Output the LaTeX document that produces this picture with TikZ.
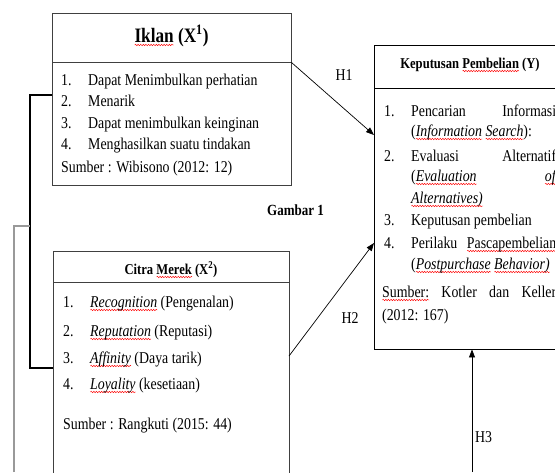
\documentclass[tikz,border=0pt]{standalone}
\usepackage{fontspec}
\setmainfont{Liberation Serif}[FakeStretch=0.84]
\usetikzlibrary{arrows.meta,decorations.pathmorphing}
\newdimen\sqwd
\newcommand\sqw[1]{\setbox0\hbox{#1}\sqwd=\wd0\relax\rlap{\tikz[x=1pt,y=1pt,baseline=0pt]\draw[red,line width=0.45pt,decorate,decoration={snake,amplitude=0.7pt,segment length=2.6pt}] (0,-3) -- (\sqwd,-3);}\box0\relax}
\begin{document}
\begin{tikzpicture}[x=1pt,y=-1pt,
  boxa/.style={draw=black!75, line width=0.9pt, inner sep=0pt, rectangle},
  boxk/.style={draw=black, line width=0.9pt, inner sep=0pt, rectangle},
  body/.style={anchor=base west, inner sep=0pt, font=\fontsize{16.5}{20}\selectfont},
  ttl/.style={anchor=base, inner sep=0pt, font=\bfseries\fontsize{15}{18}\selectfont},
  arr/.style={-{Triangle[length=8pt,width=6pt]}, line width=0.7pt},
  lbl/.style={anchor=base, inner sep=0pt, font=\fontsize{16.5}{20}\selectfont}]
\useasboundingbox (0,0) rectangle (555,472);
\clip (0,0) rectangle (555,472);

% Iklan box
\node[boxa, minimum width=239pt, minimum height=49pt] (iklanhead) at (171.5,37.5) {};
\node[boxa, minimum width=239pt, minimum height=123pt] (iklanbody) at (171.5,123.5) {};
\node[ttl, font=\bfseries\fontsize{20.5}{24}\selectfont] (iklant) at (171.5,42) {\sqw{Iklan} (X\textsuperscript{1})};
\node[body] (i1n) at (61,85) {1.};
\node[body] (i1) at (88,85) {Dapat Menimbulkan perhatian};
\node[body] (i2n) at (61,106) {2.};
\node[body] (i2) at (88,106) {Menarik};
\node[body] (i3n) at (61,128) {3.};
\node[body] (i3) at (88,128) {Dapat menimbulkan keinginan};
\node[body] (i4n) at (61,149) {4.};
\node[body] (i4) at (88,149) {Menghasilkan suatu tindakan};
\node[body] (is) at (61,172) {Sumber : Wibisono (2012: 12)};

% Citra Merek box
\node[boxa, minimum width=236pt, minimum height=31pt] (citrahead) at (171,266.5) {};
\node[boxa, minimum width=236pt, minimum height=208pt] (citrabody) at (171,386) {};
\node[ttl] (citrat) at (171,274) {Citra \sqw{Merek} (X\textsuperscript{2})};
\node[body] (c1n) at (63,307) {1.};
\node[body] (c1) at (90,307) {\sqw{\textit{Recognition}} (Pengenalan)};
\node[body] (c2n) at (63,336) {2.};
\node[body] (c2) at (90,336) {\sqw{\textit{Reputation}} (Reputasi)};
\node[body] (c3n) at (63,363) {3.};
\node[body] (c3) at (90,363) {\sqw{\textit{Affinity}} (Daya tarik)};
\node[body] (c4n) at (63,389) {4.};
\node[body] (c4) at (90,389) {\sqw{\textit{Loyality}} (kesetiaan)};
\node[body] (cs) at (63,429) {Sumber : Rangkuti (2015: 44)};

% Keputusan Pembelian box
\node[boxk, minimum width=191pt, minimum height=43pt] (kephead) at (469.5,66.5) {};
\node[boxk, minimum width=191pt, minimum height=261pt] (kepbody) at (469.5,218.5) {};
\node[ttl] (kept) at (470,68) {Keputusan \sqw{Pembelian} (Y)};
\node[body] (k1n) at (384,116) {1.};
\node[body] (k1) at (411,116) {\makebox[145pt][s]{Pencarian\hfill Informasi}};
\node[body] (k1b) at (411,136) {(\sqw{\textit{Information}} \sqw{\textit{Search}}):};
\node[body] (k2n) at (384,161) {2.};
\node[body] (k2) at (411,161) {\makebox[145pt][s]{Evaluasi\hfill Alternatif}};
\node[body] (k2b) at (411,181) {\makebox[146pt][s]{(\sqw{\textit{Evaluation}}\hfill\sqw{\textit{of}}}};
\node[body] (k2c) at (411,203) {\sqw{\textit{Alternatives)}}};
\node[body] (k3n) at (384,225) {3.};
\node[body] (k3) at (411,225) {Keputusan pembelian};
\node[body] (k4n) at (384,248) {4.};
\node[body] (k4) at (411,248) {\makebox[145pt][s]{Perilaku\hfill\sqw{Pascapembelian}}};
\node[body] (k4b) at (411,269) {(\sqw{\textit{Postpurchase}} \sqw{\textit{Behavior)}}};
\node[body] (ks) at (382,297) {\makebox[174pt][s]{\sqw{Sumber:}\hfill Kotler\hfill dan\hfill Keller}};
\node[body] (ks2) at (382,320) {(2012: 167)};

% Gambar 1
\node[anchor=base west, inner sep=0pt, font=\bfseries\fontsize{15.5}{18}\selectfont] (gam) at (267,215) {Gambar 1};

% connectors
\coordinate (k1e) at (374,135);
\coordinate (c2s) at (289,356);
\coordinate (k2e) at (374,243);
\coordinate (h3s) at (472,472);
\draw[arr] (iklanhead.south east) -- (k1e);
\draw[arr] (c2s) -- (k2e);
\draw[arr] (h3s) -- (h3s |- kepbody.south);
\node[lbl] (h1) at (344,80) {H1};
\node[lbl] (h2) at (350,323) {H2};
\node[anchor=base west, inner sep=0pt, font=\fontsize{16.5}{20}\selectfont] (h3) at (475,442) {H3};

% brackets
\coordinate (b1) at (52,95);
\coordinate (b2) at (53,368);
\coordinate (g1) at (14,472);
\coordinate (g2) at (30,226);
\draw[line width=1.6pt] (b1) -| (30,368) -- (b2);
\draw[black!40, line width=1.1pt] (g1) |- (g2);
\end{tikzpicture}
\end{document}
